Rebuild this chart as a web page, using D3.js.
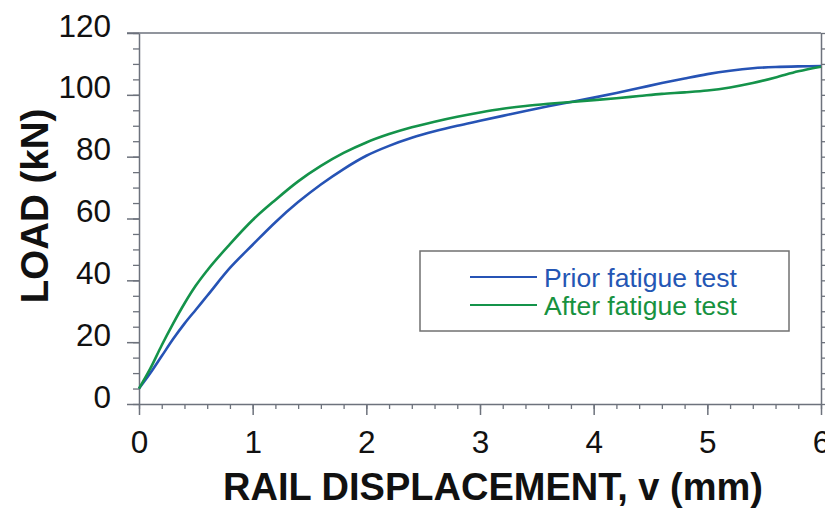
<!DOCTYPE html>
<html>
<head>
<meta charset="utf-8">
<script src="https://cdn.jsdelivr.net/npm/d3@7"></script>
<style>
  html, body { margin: 0; padding: 0; background: #fff; }
  svg { display: block; font-family: "Liberation Sans", Arial, sans-serif; }
</style>
</head>
<body>
<svg id="chart" width="825" height="508"></svg>
<script>
// ---- data ----
const displacement = [0, 0.1, 0.2, 0.3, 0.4, 0.5, 0.6, 0.8, 1.0, 1.2, 1.4, 1.6, 1.8, 2.0, 2.2, 2.4, 2.6, 2.8, 3.0, 3.2, 3.4, 3.6, 3.8, 4.0, 4.2, 4.4, 4.6, 4.8, 5.0, 5.2, 5.4, 5.6, 5.8, 6.0];
const priorLoad = [5, 10, 15.5, 21, 26, 30.5, 35, 44, 51.5, 58.8, 65.3, 71, 76, 80.3, 83.5, 86.1, 88.2, 90, 91.6, 93.2, 94.8, 96.3, 97.7, 99.1, 100.6, 102.2, 103.8, 105.3, 106.7, 107.8, 108.6, 109, 109.2, 109.3];
const afterLoad = [5, 11.5, 19, 26, 32.5, 38.3, 43.2, 51.7, 59.5, 66, 72, 77, 81.2, 84.6, 87.3, 89.5, 91.3, 92.9, 94.3, 95.5, 96.4, 97.1, 97.7, 98.3, 98.9, 99.6, 100.3, 100.8, 101.4, 102.4, 103.8, 105.6, 107.6, 109.1];
const seriesNames = ["Prior fatigue test", "After fatigue test"];
const xTicks = [0, 1, 2, 3, 4, 5, 6];
const yTicks = [0, 20, 40, 60, 80, 100, 120];
const xTitle = "RAIL DISPLACEMENT, v (mm)";
const yTitle = "LOAD (kN)";

// ---- layout ----
const svg = d3.select("#chart");
const L = 139, R = 821, T = 33, B = 404;
const x = d3.scaleLinear().domain([0, 6]).range([L, R]);
const y = d3.scaleLinear().domain([0, 120]).range([B, T]);
const axisColor = "#6d727c";
const lineColors = ["#2653b5", "#14934a"];
const textColors = ["#2456b4", "#17923f"];

// minor ticks
const xMinor = d3.range(0, 6.001, 0.2);
const yMinor = d3.range(0, 120.001, 5);

// left axis minor
svg.append("g").attr("transform", `translate(${L},0)`)
  .call(d3.axisLeft(y).tickValues(yMinor).tickSize(6).tickFormat(""))
  .call(g => g.select(".domain").remove())
  .selectAll("line").attr("stroke", axisColor).attr("stroke-width", 1.3);
// left axis major
const ya = svg.append("g").attr("transform", `translate(${L},0)`)
  .call(d3.axisLeft(y).tickValues(yTicks).tickSize(12).tickPadding(16).tickSizeOuter(0));
ya.select(".domain").attr("stroke", axisColor).attr("stroke-width", 1.5);
ya.selectAll("line").attr("stroke", axisColor).attr("stroke-width", 1.5);
ya.selectAll("text").attr("font-size", 31.5).attr("fill", "#111").attr("dy", "3").attr("x", -28);

// bottom axis minor
svg.append("g").attr("transform", `translate(0,${B})`)
  .call(d3.axisBottom(x).tickValues(xMinor).tickSize(5).tickFormat(""))
  .call(g => g.select(".domain").remove())
  .selectAll("line").attr("stroke", axisColor).attr("stroke-width", 1.3);
// bottom axis major
const xa = svg.append("g").attr("transform", `translate(0,${B})`)
  .call(d3.axisBottom(x).tickValues(xTicks).tickSize(11).tickSizeOuter(0).tickFormat(d3.format("d")));
xa.select(".domain").attr("stroke", axisColor).attr("stroke-width", 1.5);
xa.selectAll("line").attr("stroke", axisColor).attr("stroke-width", 1.5);
xa.selectAll("text").attr("font-size", 31.5).attr("fill", "#111").attr("dy", null).attr("y", 49);

// top border
svg.append("line").attr("x1", L - 12).attr("x2", R).attr("y1", T).attr("y2", T)
  .attr("stroke", axisColor).attr("stroke-width", 1.5);
// right axis (ticks outward, mostly clipped)
const ra = svg.append("g").attr("transform", `translate(${R},0)`)
  .call(d3.axisRight(y).tickValues(yMinor).tickSize(8).tickFormat("").tickSizeOuter(0));
ra.select(".domain").attr("stroke", axisColor).attr("stroke-width", 1.5);
ra.selectAll("line").attr("stroke", axisColor).attr("stroke-width", 1.3);

// ---- lines ----
const line = d3.line().x((d, i) => x(displacement[i])).y(d => y(d)).curve(d3.curveMonotoneX);
[priorLoad, afterLoad].forEach((s, i) => {
  svg.append("path").datum(s).attr("d", line)
    .attr("fill", "none").attr("stroke", lineColors[i]).attr("stroke-width", 2.6)
    .attr("stroke-linejoin", "round");
});

// ---- legend ----
const lg = svg.append("g");
lg.append("rect").attr("x", 420).attr("y", 251).attr("width", 369).attr("height", 80)
  .attr("fill", "#fff").attr("stroke", "#707070").attr("stroke-width", 1.5);
seriesNames.forEach((n, i) => {
  const by = 277 + i * 28;
  lg.append("line").attr("x1", 470).attr("x2", 537).attr("y1", by).attr("y2", by)
    .attr("stroke", lineColors[i]).attr("stroke-width", 2.2);
  lg.append("text").attr("x", 544).attr("y", by + 10).attr("font-size", 26.5)
    .attr("fill", textColors[i]).text(n);
});

// ---- titles ----
svg.append("text").attr("x", 493).attr("y", 500).attr("text-anchor", "middle")
  .attr("font-size", 38).attr("font-weight", "bold").attr("fill", "#111").text(xTitle);
svg.append("text").attr("transform", "translate(48,206) rotate(-90)").attr("text-anchor", "middle")
  .attr("font-size", 38.5).attr("font-weight", "bold").attr("fill", "#111").text(yTitle);
</script>
</body>
</html>
